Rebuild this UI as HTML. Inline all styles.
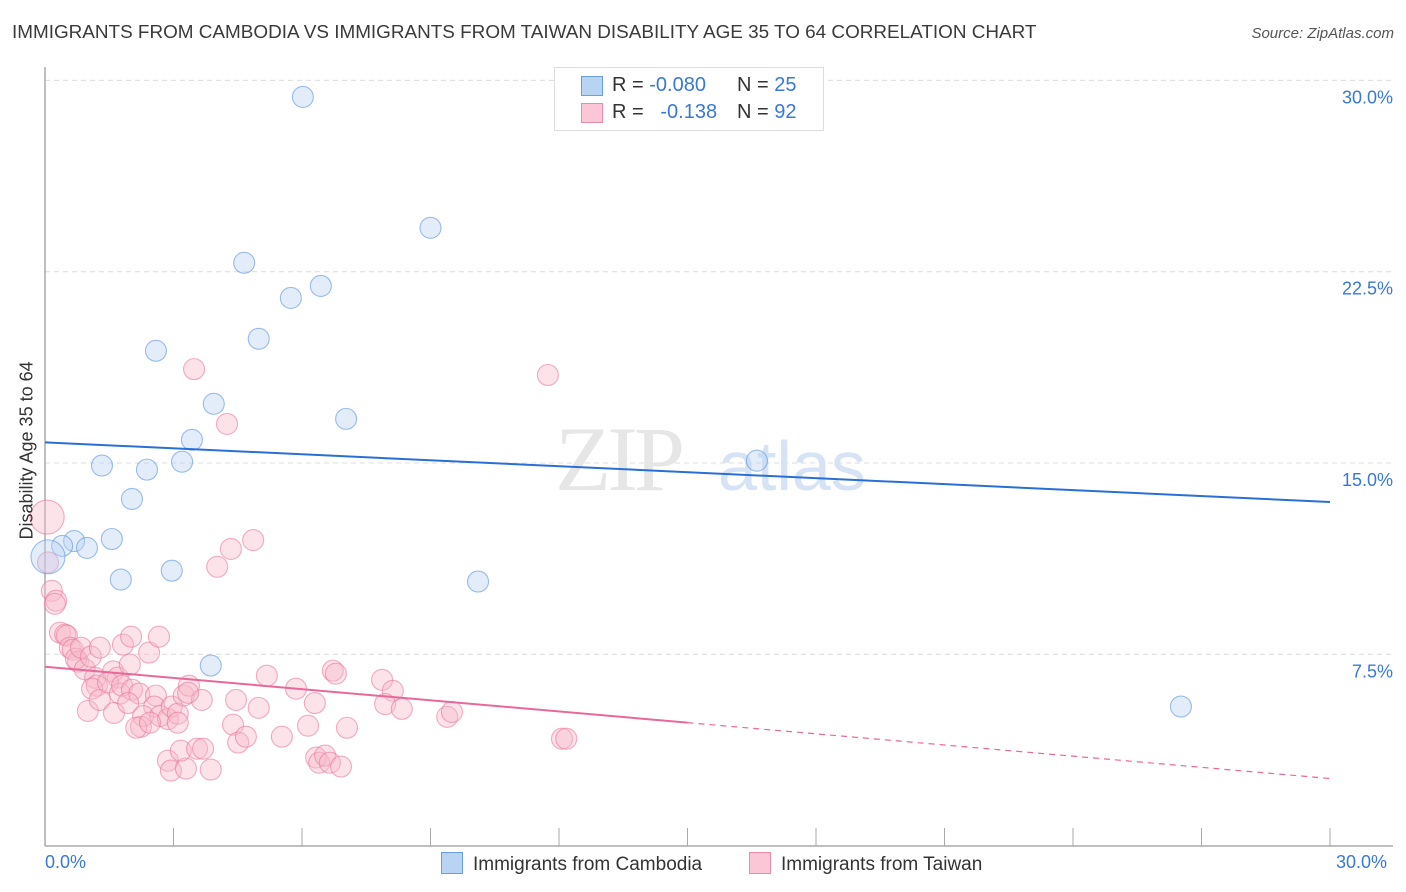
<!DOCTYPE html>
<html><head><meta charset="utf-8"><style>
body{margin:0;background:#fff;font-family:"Liberation Sans",sans-serif;}
#wrap{position:relative;width:1406px;height:892px;overflow:hidden;}
.t{position:absolute;white-space:nowrap;}
</style></head><body>
<div id="wrap">
<div class="t" style="left:12px;top:22px;font-size:18.9px;color:#3a3a3a;">IMMIGRANTS FROM CAMBODIA VS IMMIGRANTS FROM TAIWAN DISABILITY AGE 35 TO 64 CORRELATION CHART</div>
<div class="t" style="right:12px;top:25px;font-size:15px;color:#555;font-style:italic;">Source: ZipAtlas.com</div>
<svg id="svg" width="1406" height="892" style="position:absolute;left:0;top:0"></svg>
</div>
<script>
const blueX=[6.02,9.0,4.65,6.44,5.74,4.99,2.59,3.94,7.03,3.43,3.2,1.33,2.38,16.62,2.03,1.56,0.68,0.4,0.98,0.07,1.77,2.96,10.11,3.87,26.52];
const blueY=[29.35,24.22,22.85,21.94,21.47,19.87,19.4,17.32,16.73,15.91,15.05,14.9,14.74,15.09,13.59,12.02,11.94,11.75,11.67,11.32,10.43,10.78,10.35,7.06,5.45];
const pinkX=[0.05,0.07,0.16,0.26,0.23,0.35,0.47,0.51,0.58,0.65,0.77,0.72,0.84,0.93,1.07,1.28,1.17,1.21,1.1,1.59,1.7,1.82,1.98,2.01,2.43,1.0,1.28,1.61,1.47,1.75,1.8,2.03,2.2,2.59,2.55,1.94,2.29,2.69,2.87,2.96,3.1,3.1,2.24,2.13,2.45,2.87,2.94,3.29,3.17,3.24,3.36,3.66,3.55,3.69,3.87,4.46,4.39,4.51,4.69,4.99,5.18,5.53,5.86,6.3,6.14,6.72,6.79,6.33,6.4,6.54,6.65,6.91,7.05,7.87,8.12,7.94,8.33,9.39,9.5,11.74,12.07,12.17,3.48,4.25,4.86,4.34,4.02,2.66,3.34];
const pinkY=[12.88,11.1,9.99,9.6,9.48,8.35,8.27,8.23,7.76,7.68,7.21,7.33,7.76,6.91,7.41,7.76,6.58,6.27,6.15,6.83,6.59,7.88,7.1,8.19,7.57,5.28,5.71,5.2,6.39,5.96,6.27,6.11,5.96,5.88,5.45,5.59,5.08,5.08,4.96,5.45,5.17,4.82,4.66,4.62,4.82,3.33,2.94,3.02,3.72,5.88,6.27,5.71,3.8,3.8,2.98,5.71,4.74,4.04,4.27,5.4,6.66,4.27,6.15,5.59,4.7,6.86,6.74,3.45,3.25,3.53,3.25,3.1,4.62,6.5,6.07,5.55,5.36,5.05,5.24,18.45,4.19,4.19,18.68,16.53,11.98,11.63,10.93,8.19,5.99];
const blueLine=[15.81,-0.078]; // intercept, slope
const pinkLine=[7.01,-0.146];
const pinkSolidEnd=15.0;
const yTicks=[7.5,15,22.5,30];
const yTickLabels=["7.5%","15.0%","22.5%","30.0%"];

const X0=45,X1=1330,Y0=845.6,PXY=191.3/7.5;
const sx=v=>X0+(X1-X0)*v/30, sy=v=>Y0-v*PXY;
const svg=document.getElementById('svg'),NS='http://www.w3.org/2000/svg';
function mk(tag,attrs,parent){const e=document.createElementNS(NS,tag);for(const k in attrs)e.setAttribute(k,attrs[k]);(parent||svg).appendChild(e);return e;}
yTicks.forEach((v,i)=>{
 const g=mk('line',{x1:X0,x2:1393,y1:sy(v),y2:sy(v),stroke:'#dcdcdc','stroke-dasharray':'5,4'});
 
 
 const t=mk('text',{x:1393,y:sy(v)+23,'text-anchor':'end','font-size':18,fill:'#3a78d6','font-family':'Liberation Sans'});
 t.textContent=yTickLabels[i];
 
 
});
const ya=mk('line',{x1:X0,x2:X0,y1:67,y2:846,stroke:'#aaa','stroke-width':1.5});


const xa=mk('line',{x1:X0,x2:1393,y1:846,y2:846,stroke:'#aaa','stroke-width':1.5});


for(let i=0;i<=10;i++){const x=X0+i*128.5;const tk=mk('line',{x1:x,x2:x,y1:828,y2:846,stroke:'#aaa'});
 
 }
const wm=mk('text',{x:555,y:490,'font-size':92,fill:'#e6e6e6','font-family':'Liberation Serif','letter-spacing':'-4'});wm.textContent='ZIP';


const wm2=mk('text',{x:718,y:490,'font-size':70,fill:'#d5e3f5','font-family':'Liberation Sans'});wm2.textContent='atlas';


function pts(xs,ys,fill,stroke,name,bigIdx){xs.forEach((x,i)=>{
 const c=mk('circle',{cx:sx(x),cy:sy(ys[i]),r:(i===bigIdx)?17:10.5,fill:fill,'fill-opacity':0.4,stroke:stroke,'stroke-opacity':0.6,'stroke-width':1.1});
 
 });}
pts(pinkX,pinkY,'#f7b8cb','#e8789c','taiwan-point',0);
pts(blueX,blueY,'#b9d3f3','#5b93dd','cambodia-point',19);
const bl=mk('line',{x1:sx(0),y1:sy(blueLine[0]),x2:sx(30),y2:sy(blueLine[0]+blueLine[1]*30),stroke:'#2a6fd6','stroke-width':2});


const pl=mk('line',{x1:sx(0),y1:sy(pinkLine[0]),x2:sx(pinkSolidEnd),y2:sy(pinkLine[0]+pinkLine[1]*pinkSolidEnd),stroke:'#e8689a','stroke-width':2});


const pd=mk('line',{x1:sx(pinkSolidEnd),y1:sy(pinkLine[0]+pinkLine[1]*pinkSolidEnd),x2:sx(30),y2:sy(pinkLine[0]+pinkLine[1]*30),stroke:'#e8689a','stroke-width':1.2,'stroke-dasharray':'6,5'});


</script>
<div class="t" style="left:-58px;top:444px;transform:rotate(-90deg);font-size:18px;color:#333;width:170px;text-align:center;">Disability Age 35 to 64</div>
<div class="t" style="left:45px;top:852px;font-size:18px;color:#3a78d6;">0.0%</div>
<div class="t" style="left:1336px;top:852px;font-size:18px;color:#3a78d6;">30.0%</div>
<div style="position:absolute;left:554px;top:67px;width:268px;height:62px;border:1px solid #ddd;background:#fff;font-size:20px;color:#333;">
 <div style="position:absolute;left:26px;top:8px;width:20px;height:18px;background:#b9d3f3;border:1px solid #6a9ee0;"></div>
 <div class="t" style="left:57px;top:6px;">R = <span style="color:#3a78d6">-0.080</span></div>
 <div class="t" style="left:182px;top:6px;">N = <span style="color:#3a78d6">25</span></div>
 <div style="position:absolute;left:26px;top:35px;width:20px;height:18px;background:#fbc6d6;border:1px solid #ec8aaa;"></div>
 <div class="t" style="left:57px;top:33px;">R = &nbsp;&nbsp;<span style="color:#3a78d6">-0.138</span></div>
 <div class="t" style="left:182px;top:33px;">N = <span style="color:#3a78d6">92</span></div>
</div>
<div style="position:absolute;left:441px;top:852px;font-size:19px;color:#333;">
 <div style="position:absolute;left:0;top:0;white-space:nowrap;"><span style="display:inline-block;width:20px;height:20px;background:#b9d3f3;border:1px solid #6a9ee0;vertical-align:-4px;margin-right:10px;"></span>Immigrants from Cambodia</div>
 <div style="position:absolute;left:308px;top:0;white-space:nowrap;"><span style="display:inline-block;width:20px;height:20px;background:#fbc6d6;border:1px solid #ec8aaa;vertical-align:-4px;margin-right:10px;"></span>Immigrants from Taiwan</div>
</div>
</body></html>
